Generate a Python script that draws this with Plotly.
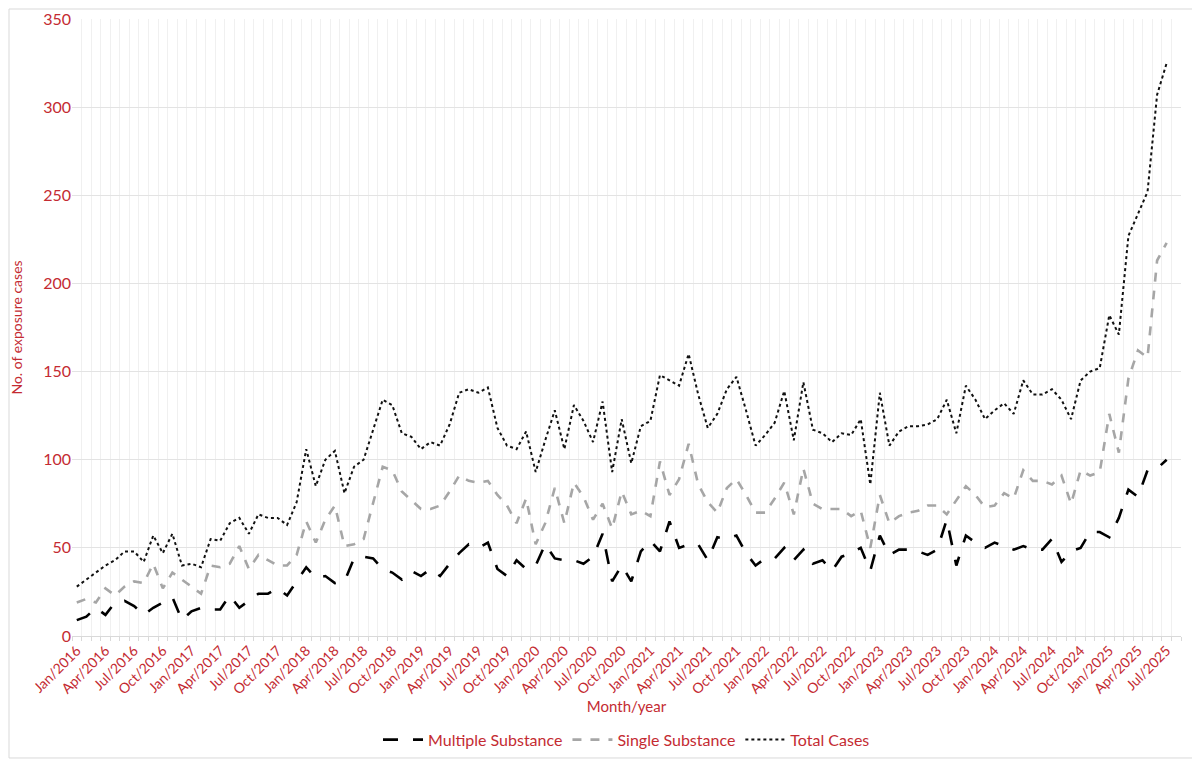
#!/usr/bin/env python3
"""Monthly exposure cases, Jan/2016 - Jul/2025: multiple vs single substance."""
import numpy as np
import pandas as pd
import plotly.graph_objects as go

MONTHS = list(pd.date_range('2016-01-01', '2025-07-01', freq='MS').strftime('%b/%Y'))

MULTIPLE = [9, 11, 16, 12, 19, 20, 17, 12, 16, 19, 22, 9, 14, 16, 15, 15, 23, 16, 20, 24,
            24, 27, 23, 31, 39, 33, 34, 30, 31, 44, 45, 44, 38, 36, 32, 37, 34, 38, 34, 41,
            47, 52, 50, 53, 38, 34, 43, 38, 40, 52, 44, 43, 43, 41, 45, 58, 31, 40, 31, 48,
            54, 48, 65, 50, 52, 52, 43, 56, 55, 57, 47, 40, 44, 44, 50, 43, 49, 41, 43, 37,
            45, 47, 50, 37, 57, 46, 49, 49, 48, 46, 49, 66, 40, 57, 53, 50, 53, 51, 49, 51,
            49, 49, 55, 42, 48, 50, 59, 59, 56, 67, 83, 79, 94, 95, 100]
SINGLE = [19, 21, 19, 27, 23, 28, 31, 30, 41, 27, 36, 32, 28, 24, 40, 39, 41, 51, 38, 46,
          43, 40, 40, 46, 65, 53, 66, 74, 51, 52, 55, 75, 96, 94, 82, 77, 72, 72, 74, 82,
          91, 88, 87, 88, 80, 74, 64, 78, 52, 64, 84, 64, 87, 79, 66, 75, 61, 82, 69, 71,
          68, 99, 80, 89, 109, 86, 76, 70, 84, 89, 80, 70, 70, 78, 87, 69, 95, 75, 72, 72,
          72, 68, 71, 50, 80, 64, 68, 70, 71, 74, 74, 69, 77, 85, 80, 73, 74, 81, 78, 94,
          88, 88, 86, 91, 75, 94, 91, 93, 126, 104, 146, 162, 158, 213, 223]
TOTAL = [28, 32, 36, 40, 43, 48, 48, 42, 57, 47, 58, 40, 41, 39, 55, 54, 64, 67, 58, 69,
         67, 67, 63, 76, 106, 85, 100, 105, 81, 96, 100, 117, 134, 131, 115, 113, 106, 110, 108, 120,
         138, 140, 138, 141, 118, 108, 106, 116, 93, 111, 128, 106, 131, 122, 110, 133, 93, 123, 98, 119,
         122, 148, 145, 142, 160, 137, 118, 126, 140, 147, 128, 108, 114, 121, 139, 111, 144, 117, 115, 110,
         115, 114, 123, 86, 138, 108, 116, 119, 119, 120, 123, 134, 115, 142, 134, 123, 128, 132, 126, 145,
         137, 137, 140, 134, 123, 145, 150, 152, 182, 171, 227, 240, 252, 307, 325]

RED = '#C42B32'
FONT = 'Lato, "Open Sans", Arial, sans-serif'
idx = np.arange(len(MONTHS))

fig = go.Figure()
fig.add_trace(go.Scatter(x=idx, y=MULTIPLE, mode='lines', name='Multiple Substance',
    line=dict(color='#000000', width=2.6, dash='longdash'), customdata=MONTHS,
    hovertemplate='%{customdata}<br>%{y}<extra>Multiple Substance</extra>'))
fig.add_trace(go.Scatter(x=idx, y=SINGLE, mode='lines', name='Single Substance',
    line=dict(color='#A6A6A6', width=2.6, dash='dash'), customdata=MONTHS,
    hovertemplate='%{customdata}<br>%{y}<extra>Single Substance</extra>'))
fig.add_trace(go.Scatter(x=idx, y=TOTAL, mode='lines', name='Total Cases',
    line=dict(color='#111111', width=2, dash='dot'), customdata=MONTHS,
    hovertemplate='%{customdata}<br>%{y}<extra>Total Cases</extra>'))

fig.update_xaxes(range=[-0.5, len(MONTHS) + 0.5], tickmode='array', tickvals=idx[::3],
    ticktext=MONTHS[::3], tickangle=-45, tickfont=dict(color=RED, size=14, family=FONT),
    showgrid=False, zeroline=False, showline=True, linecolor='#D9D9D9', linewidth=1,
    ticks='', automargin=False, ticklabeloverflow='allow',
    minor=dict(tick0=0.5, dtick=1, showgrid=True, gridcolor='#F0F0F0',
    gridwidth=1, ticks='outside', ticklen=4, tickcolor='#D9D9D9'),
    title=dict(text='Month/year', font=dict(color=RED, size=15, family=FONT), standoff=5))
fig.update_yaxes(range=[0, 350], dtick=50, showgrid=True, gridcolor='#E3E3E3', gridwidth=1,
    zeroline=False, showline=False, tickfont=dict(color=RED, size=16, family=FONT), ticklen=0,
    automargin=False, ticklabeloverflow='allow',
    title=dict(text='No. of exposure cases', font=dict(color=RED, size=14, family=FONT), standoff=20))

# page body has an 8px margin, so the figure is sized to sit inside the 1200x760 window
fig.update_layout(width=1192, height=752, plot_bgcolor='white', paper_bgcolor='white',
    margin=dict(l=64, r=19, t=11, b=124), font=dict(family=FONT, color=RED),
    legend=dict(orientation='h', x=0.5, xanchor='center', yref='container', y=0.027,
        yanchor='middle', font=dict(color=RED, size=16, family=FONT), itemwidth=40, tracegroupgap=0),
    shapes=[dict(type='rect', xref='paper', yref='paper', x0=-0.0568, x1=1.0153, y0=-0.1977, y1=1.0162,
        line=dict(color='#D9D9D9', width=1), fillcolor='rgba(0,0,0,0)', layer='below')])

fig.write_html('out.html')
